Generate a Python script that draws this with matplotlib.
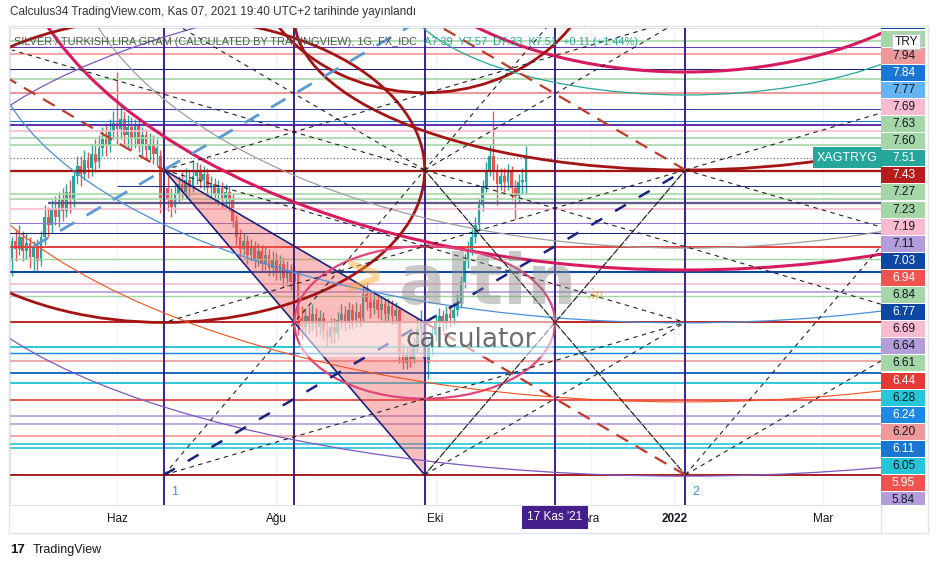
import numpy as np
import matplotlib.pyplot as plt
from matplotlib.patches import Ellipse, Rectangle, Polygon
from matplotlib.lines import Line2D
from matplotlib.transforms import blended_transform_factory

plt.rcParams["font.family"] = ["Liberation Sans", "DejaVu Sans"]

FIRST_DAY = "2021-04-21"

# daily candles, XAG/TRY per gram
opens = [7.00, 7.10, 7.06, 7.12, 7.05, 7.09, 7.02, 7.07, 7.00, 7.12,
         7.22, 7.18, 7.26, 7.22, 7.30, 7.25, 7.34, 7.30, 7.42, 7.47,
         7.43, 7.50, 7.46, 7.53, 7.49, 7.56, 7.60, 7.57, 7.64, 7.68,
         7.65, 7.70, 7.62, 7.66, 7.60, 7.67, 7.58, 7.62, 7.55, 7.58,
         7.53, 7.52, 7.31, 7.36, 7.30, 7.27, 7.33, 7.38, 7.34, 7.40,
         7.37, 7.42, 7.44, 7.40, 7.43, 7.36, 7.38, 7.33, 7.36, 7.31,
         7.34, 7.30, 7.20, 7.12, 7.06, 7.10, 7.03, 7.07, 7.01, 7.05,
         6.99, 7.03, 6.97, 7.01, 6.95, 6.99, 6.92, 6.96, 6.90, 6.94,
         6.72, 6.68, 6.73, 6.69, 6.74, 6.68, 6.72, 6.66, 6.63, 6.68,
         6.65, 6.71, 6.74, 6.70, 6.76, 6.71, 6.75, 6.72, 6.84, 6.80,
         6.77, 6.81, 6.76, 6.79, 6.74, 6.78, 6.73, 6.76, 6.55, 6.50,
         6.54, 6.52, 6.58, 6.67, 6.70, 6.50, 6.58, 6.64, 6.70, 6.73,
         6.70, 6.74, 6.72, 6.76, 6.80, 6.90, 7.00, 7.06, 7.12, 7.18,
         7.28, 7.37, 7.45, 7.52, 7.44, 7.38, 7.42, 7.39, 7.44, 7.36,
         7.32, 7.39, 7.39]
closes = [7.10, 7.06, 7.12, 7.05, 7.09, 7.02, 7.07, 7.00, 7.12, 7.22,
          7.18, 7.26, 7.22, 7.30, 7.25, 7.34, 7.30, 7.42, 7.47, 7.43,
          7.50, 7.46, 7.53, 7.49, 7.56, 7.60, 7.57, 7.64, 7.68, 7.65,
          7.70, 7.62, 7.66, 7.60, 7.67, 7.58, 7.62, 7.55, 7.58, 7.53,
          7.56, 7.31, 7.36, 7.30, 7.27, 7.33, 7.38, 7.34, 7.40, 7.37,
          7.42, 7.44, 7.40, 7.43, 7.36, 7.38, 7.33, 7.36, 7.31, 7.34,
          7.30, 7.20, 7.12, 7.06, 7.10, 7.03, 7.07, 7.01, 7.05, 6.99,
          7.03, 6.97, 7.01, 6.95, 6.99, 6.92, 6.96, 6.90, 6.94, 6.72,
          6.68, 6.73, 6.69, 6.74, 6.68, 6.72, 6.66, 6.63, 6.68, 6.65,
          6.71, 6.74, 6.70, 6.76, 6.71, 6.75, 6.72, 6.84, 6.80, 6.77,
          6.81, 6.76, 6.79, 6.74, 6.78, 6.73, 6.76, 6.55, 6.50, 6.54,
          6.52, 6.58, 6.67, 6.70, 6.52, 6.58, 6.64, 6.70, 6.73, 6.70,
          6.74, 6.72, 6.76, 6.80, 6.90, 7.00, 7.06, 7.12, 7.18, 7.28,
          7.37, 7.45, 7.52, 7.44, 7.38, 7.42, 7.39, 7.44, 7.36, 7.32,
          7.39, 7.40, 7.51]
highs = [7.12, 7.16, 7.18, 7.15, 7.14, 7.12, 7.10, 7.11, 7.15, 7.28,
         7.27, 7.30, 7.32, 7.34, 7.36, 7.38, 7.40, 7.45, 7.52, 7.52,
         7.55, 7.54, 7.58, 7.60, 7.62, 7.66, 7.68, 7.70, 7.74, 7.93,
         7.78, 7.74, 7.72, 7.71, 7.70, 7.70, 7.66, 7.65, 7.63, 7.62,
         7.60, 7.55, 7.40, 7.42, 7.36, 7.38, 7.42, 7.44, 7.46, 7.45,
         7.50, 7.49, 7.48, 7.47, 7.46, 7.42, 7.41, 7.40, 7.39, 7.38,
         7.37, 7.33, 7.23, 7.16, 7.14, 7.13, 7.11, 7.10, 7.09, 7.08,
         7.07, 7.06, 7.05, 7.04, 7.03, 7.02, 7.00, 6.99, 6.98, 6.96,
         6.78, 6.77, 6.78, 6.79, 6.77, 6.76, 6.75, 6.70, 6.72, 6.72,
         6.75, 6.79, 6.78, 6.80, 6.79, 6.80, 6.79, 6.88, 6.90, 6.85,
         6.86, 6.84, 6.83, 6.82, 6.82, 6.81, 6.80, 6.78, 6.60, 6.58,
         6.60, 6.63, 6.72, 6.76, 6.72, 6.62, 6.68, 6.74, 6.77, 6.76,
         6.78, 6.78, 6.80, 6.84, 6.93, 7.04, 7.10, 7.16, 7.22, 7.31,
         7.40, 7.49, 7.58, 7.74, 7.48, 7.46, 7.46, 7.48, 7.47, 7.40,
         7.43, 7.46, 7.57]
lows = [6.93, 7.00, 7.03, 7.00, 7.01, 6.97, 6.95, 6.96, 6.98, 7.08,
        7.12, 7.14, 7.18, 7.17, 7.20, 7.22, 7.24, 7.27, 7.38, 7.37,
        7.40, 7.41, 7.42, 7.44, 7.46, 7.52, 7.52, 7.54, 7.60, 7.58,
        7.60, 7.58, 7.56, 7.55, 7.56, 7.54, 7.52, 7.50, 7.50, 7.48,
        7.47, 7.24, 7.26, 7.25, 7.22, 7.24, 7.29, 7.30, 7.31, 7.32,
        7.34, 7.38, 7.36, 7.35, 7.32, 7.31, 7.29, 7.28, 7.27, 7.27,
        7.25, 7.17, 7.08, 7.02, 7.03, 6.99, 7.00, 6.97, 6.98, 6.95,
        6.96, 6.93, 6.93, 6.91, 6.91, 6.88, 6.88, 6.86, 6.86, 6.64,
        6.62, 6.64, 6.65, 6.66, 6.63, 6.64, 6.62, 6.58, 6.60, 6.60,
        6.62, 6.67, 6.66, 6.67, 6.67, 6.68, 6.68, 6.70, 6.76, 6.72,
        6.74, 6.72, 6.71, 6.70, 6.70, 6.69, 6.69, 6.50, 6.47, 6.47,
        6.48, 6.50, 6.55, 6.60, 6.48, 6.42, 6.54, 6.61, 6.66, 6.66,
        6.67, 6.68, 6.69, 6.73, 6.77, 6.87, 6.97, 7.03, 7.09, 7.15,
        7.25, 7.34, 7.42, 7.40, 7.28, 7.35, 7.34, 7.35, 7.30, 7.21,
        7.29, 7.33, 7.33]

month_labels = ["Haz", "Ağu", "Eki", "Ara", "2022", "Mar"]
month_dates = ["2021-06-01", "2021-08-01", "2021-10-01", "2021-12-01",
               "2022-01-01", "2022-03-01"]
cursor_date = "2021-11-17"
cursor_label = "17 Kas '21"

gann_bars = [42, 78, 114, 150, 186]
cycle_marks = [(42, "1"), (186, "2")]
last_price = 7.51

# horizontal levels drawn in the chart
level_prices = [8.085, 8.055, 8.02, 7.945, 7.90, 7.83, 7.75, 7.69, 7.67, 7.64,
                7.605, 7.575, 7.445, 7.37, 7.33, 7.305, 7.29, 7.26, 7.19, 7.14,
                7.07, 7.01, 6.95, 6.89, 6.85, 6.83, 6.70, 6.58, 6.55, 6.51,
                6.45, 6.40, 6.32, 6.24, 6.20, 6.14, 6.10, 6.08, 5.95]
level_colors = ["#a5d6a7", "#673ab7", "#f4a3a3", "#1a237e", "#a5d6a7", "#ef9a9a",
                "#3949ab", "#1976d2", "#5e35b1", "#f8bbd0", "#a5d6a7", "#a5d6a7",
                "#a31515", "#283593", "#a5d6a7", "#a5d6a7", "#5c5c85", "#f8bbd0",
                "#9575cd", "#1a237e", "#e53935", "#a5d6a7", "#0d47a1", "#f8bbd0",
                "#b39ddb", "#a5d6a7", "#b71c1c", "#26c6da", "#1e88e5", "#ef9a9a",
                "#1565c0", "#26c6da", "#e53935", "#b39ddb", "#b39ddb", "#ef9a9a",
                "#26c6da", "#26c6da", "#a31515"]
level_widths = [1.6, 1.0, 1.8, 1.0, 1.6, 2.0, 1.0, 1.0, 2.0, 1.6,
                1.6, 1.6, 2.2, 1.0, 1.6, 1.6, 2.2, 1.6, 1.0, 1.0,
                1.8, 1.4, 2.0, 1.6, 1.6, 1.4, 1.8, 1.8, 1.4, 1.6,
                1.8, 1.8, 1.6, 1.6, 1.6, 1.6, 1.6, 1.6, 1.8]
level_starts = [-1] * 13 + [29, -1, -1, 10] + [-1] * 22

# price-scale labels (the top two sit under the TRY tag / the chart edge)
axis_values = [8.16, 8.09, 7.94, 7.84, 7.77, 7.69, 7.63, 7.60, 7.51, 7.43,
               7.27, 7.23, 7.19, 7.11, 7.03, 6.94, 6.84, 6.77, 6.69, 6.64,
               6.61, 6.44, 6.28, 6.24, 6.20, 6.11, 6.05, 5.95, 5.84]
axis_fill = ["#0d47a1", "#a5d6a7", "#ef9a9a", "#1976d2", "#64b5f6", "#f8bbd0",
             "#a5d6a7", "#a5d6a7", "#26a69a", "#b71c1c", "#a5d6a7", "#a5d6a7",
             "#f8bbd0", "#b39ddb", "#0d47a1", "#ef5350", "#a5d6a7", "#0d47a1",
             "#f8bbd0", "#b39ddb", "#a5d6a7", "#e53935", "#26c6da", "#1e88e5",
             "#ef9a9a", "#1976d2", "#26c6da", "#ef5350", "#b39ddb"]
hidden_text = {8.16, 8.09}
white_text = {7.84, 7.51, 7.43, 7.03, 6.94, 6.77, 6.44, 6.24, 6.11, 5.95}

# Gann circles: centre bar, centre price, half width (bars), half height (price)
ellipse_centres = [(186, 8.798), (186, 8.798), (42, 7.45), (186, 8.20), (114, 8.58),
                   (114, 6.70), (186, 8.144), (186, 8.655), (186, 8.392),
                   (186, 7.917), (186, 7.194)]
ellipse_radii = [(188, 1.84), (86.5, 0.866), (72, 0.75), (108, 0.75), (49, 0.75),
                 (36, 0.375), (193, 1.446), (171, 1.589), (80, 0.573),
                 (210, 1.608), (210, 1.25)]
ellipse_colors = ["#d81b60", "#d81b60", "#a31515", "#a31515", "#a31515",
                  "#e0457b", "#4a90d9", "#9e9e9e", "#26a69a", "#f4511e", "#7e57c2"]
ellipse_widths = [2.2, 2.2, 2.0, 2.0, 2.0, 1.6, 0.9, 0.9, 0.9, 0.8, 0.9]

# Gann fan rays (bar, price, bar, price)
fan_segments = [(42, 7.45, 186, 8.20), (42, 7.45, 186, 6.70), (42, 5.95, 186, 6.70),
                (42, 5.95, 150, 8.20), (114, 7.45, 186, 5.95), (114, 7.45, 186, 8.20),
                (114, 7.45, 42, 8.20), (114, 7.45, 240, 6.79), (114, 7.45, 0, 8.04),
                (186, 7.45, 114, 5.95), (186, 7.45, 42, 6.70), (186, 7.45, 240, 7.73),
                (186, 7.45, 240, 7.17), (186, 5.95, 114, 7.45), (186, 5.95, 240, 7.075),
                (186, 5.95, 240, 6.51), (114, 5.95, 186, 7.45), (114, 5.95, 186, 6.70)]
red_dashed = [(-2, 7.91, 42, 7.45), (114, 8.20, 186, 7.45), (114, 6.70, 186, 5.95)]
navy_dashed = [(42, 5.95, 186, 7.45)]
blue_dashed = [(6, 7.075, 114, 8.20)]
triangle = [(42, 7.45), (114, 6.70), (114, 5.95)]

W, H = 941, 568


def fig_box(x0, y0, x1, y1):
    return [x0 / W, 1 - y1 / H, (x1 - x0) / W, (y1 - y0) / H]


fig = plt.figure(figsize=(W / 100, H / 100), dpi=100)
ax = fig.add_axes(fig_box(10, 28, 881, 505))
axp = fig.add_axes(fig_box(881, 28, 928, 505))

ax.set_xlim(-0.55, 240.05)
ax.set_ylim(5.802, 8.1485)
axp.set_ylim(ax.get_ylim())
axp.set_xlim(0, 1)
axp.axis("off")

for side in ax.spines.values():
    side.set_color("#e0e3eb")
ax.set_yticks([])

# time axis
tick_pos = [int(np.busday_count(FIRST_DAY, d)) for d in month_dates]
ax.set_xticks(tick_pos)
ax.set_xticklabels(month_labels)
ax.tick_params(axis="x", length=0, pad=6, labelsize=8.5, labelcolor="#131722")
ax.get_xticklabels()[4].set_fontweight("bold")
ax.grid(axis="x", color="#f0f3fa", lw=1, zorder=0)

# candles
idx = np.arange(len(closes))
o = np.array(opens)
c = np.array(closes)
cols = np.where(c >= o, "#26a69a", "#ef5350")
ax.vlines(idx, lows, highs, colors=cols, lw=1.0, zorder=2)
ax.bar(idx, np.maximum(np.abs(c - o), 0.006), bottom=np.minimum(o, c),
       width=0.75, color=cols, linewidth=0, zorder=2)

# levels
for p, col, lw, s in zip(level_prices, level_colors, level_widths, level_starts):
    ax.hlines(p, s, 241, colors=col, lw=lw * 0.75, zorder=3)
ax.axhline(last_price, color="#555555", lw=0.8, ls=(0, (1, 2)), zorder=3)

# shaded triangle
ax.add_patch(Polygon(triangle, closed=True, fc="#ef5350", alpha=0.38, ec="none", zorder=3))
for p in triangle[1:]:
    ax.plot([triangle[0][0], p[0]], [triangle[0][1], p[1]], color="#1a237e", lw=1.2, zorder=4)

for b in gann_bars:
    ax.axvline(b, color="#3b1f8f", lw=1.4, zorder=4)

for (cx, cy), (rx, ry), col, lw in zip(ellipse_centres, ellipse_radii,
                                       ellipse_colors, ellipse_widths):
    ax.add_patch(Ellipse((cx, cy), 2 * rx, 2 * ry, fill=False, ec=col, lw=lw, zorder=4))

for x0, y0, x1, y1 in fan_segments:
    ax.plot([x0, x1], [y0, y1], color="#222222", lw=0.8, ls=(0, (4, 4)), zorder=4)
for x0, y0, x1, y1 in red_dashed:
    ax.plot([x0, x1], [y0, y1], color="#c0392b", lw=1.6, ls=(0, (6, 4)), zorder=4)
for x0, y0, x1, y1 in navy_dashed:
    ax.plot([x0, x1], [y0, y1], color="#1a237e", lw=1.8, ls=(0, (5, 6)), zorder=4)
for x0, y0, x1, y1 in blue_dashed:
    ax.plot([x0, x1], [y0, y1], color="#5b9bd5", lw=2.0, ls=(0, (6, 5)), zorder=4)

bottom_tr = blended_transform_factory(ax.transData, ax.transAxes)
for b, txt in cycle_marks:
    ax.text(b + 3, 0.027, txt, transform=bottom_tr, color="#4a90d9",
            fontsize=9, ha="center", va="center", zorder=6)

# watermark
ax.add_patch(Rectangle((0.333, 0.31), 0.29, 0.075, transform=ax.transAxes,
                       fc="white", ec="none", alpha=0.55, zorder=6))
ax.text(0.405, 0.47, ">", transform=ax.transAxes, fontsize=44, fontweight="bold",
        color="#f5a623", alpha=0.45, ha="center", va="center", zorder=6)
ax.text(0.447, 0.462, "altin", transform=ax.transAxes, fontsize=50, fontweight="bold",
        color="#8a8a8a", alpha=0.45, ha="left", va="center", zorder=6,
        family="DejaVu Sans")
ax.text(0.662, 0.44, ".in", transform=ax.transAxes, fontsize=10, fontweight="bold",
        color="#f5a623", alpha=0.5, ha="left", va="center", zorder=6)
ax.text(0.529, 0.346, "calculator", transform=ax.transAxes, fontsize=19,
        color="#555555", alpha=0.85, ha="center", va="center", zorder=6,
        family="DejaVu Sans")

# symbol tag and legend
right_tr = blended_transform_factory(ax.transAxes, ax.transData)
ax.text(0.9965, last_price, "XAGTRYG", transform=right_tr, ha="right", va="center",
        color="white", fontsize=9, zorder=8,
        bbox=dict(boxstyle="square,pad=0.35", fc="#26a69a", ec="none"))
name = ax.text(0.005, 0.9706, "SILVER / TURKISH LIRA GRAM (CALCULATED BY TRADINGVIEW), 1G, FX_IDC",
               transform=ax.transAxes, fontsize=7.9, color="#555555", va="center", zorder=9)
ax.annotate("A7.39  Y7.57  D7.33  K7.51  +0.11 (+1.44%)", xy=(1, 0.5), xycoords=name,
            xytext=(5, 0), textcoords="offset points", fontsize=7.9, color="#26a69a",
            va="center", zorder=9)

ax.annotate(cursor_label, xy=(int(np.busday_count(FIRST_DAY, cursor_date)), 0),
            xycoords=bottom_tr, xytext=(0, -9), textcoords="offset points",
            ha="center", va="center", color="white", fontsize=8.5, zorder=10,
            annotation_clip=False,
            bbox=dict(boxstyle="square,pad=0.45", fc="#45208c", ec="none"))

# stacked price labels
raw = ax.transData.transform([(0, v) for v in axis_values])[:, 1]
step = 17.1
blocks = [[y] for y in raw]
merged = True
while merged:
    merged = False
    for i in range(len(blocks) - 1):
        up, lo = blocks[i], blocks[i + 1]
        up_bottom = np.mean(up) - (len(up) - 1) * step / 2
        lo_top = np.mean(lo) + (len(lo) - 1) * step / 2
        if up_bottom - lo_top < step:
            blocks[i:i + 2] = [up + lo]
            merged = True
            break
centres = []
for blk in blocks:
    m = np.mean(blk)
    centres += [m + (len(blk) - 1) * step / 2 - k * step for k in range(len(blk))]
inv = ax.transData.inverted()
per_px = (ax.get_ylim()[1] - ax.get_ylim()[0]) / 477.0
box_h = 16 * per_px
for v, col, cy in zip(axis_values, axis_fill, centres):
    yd = inv.transform((0, cy))[1]
    axp.add_patch(Rectangle((0.0, yd - box_h / 2), 0.94, box_h, fc=col, ec="none",
                            clip_on=True, zorder=3))
    if v in hidden_text:
        continue
    axp.text(0.48, yd, f"{v:.2f}", ha="center", va="center", fontsize=8.6,
             color="white" if v in white_text else "#131722", zorder=4, clip_on=True)
axp.add_patch(Rectangle((0.24, 0.955), 0.6, 0.033, transform=axp.transAxes,
                        fc="white", ec="#c8ccd6", lw=0.8, zorder=5))
axp.text(0.54, 0.9715, "TRY", transform=axp.transAxes, ha="center", va="center",
         fontsize=8.6, color="#131722", zorder=6)

# frame, header, footer
fig.add_artist(Rectangle((9 / W, 1 - 533 / H), 919 / W, 507 / H, transform=fig.transFigure,
                         fill=False, ec="#e0e3eb", lw=1))
fig.add_artist(Line2D([881 / W, 881 / W], [1 - 533 / H, 1 - 505 / H],
                      transform=fig.transFigure, color="#e0e3eb", lw=1))
fig.text(10 / W, 1 - 12 / H, "Calculus34 TradingView.com, Kas 07, 2021 19:40 UTC+2 tarihinde yayınlandı",
         fontsize=8.5, color="#333333", va="center")
fig.text(10 / W, 1 - 550 / H, "17", fontsize=9.5, fontweight="bold",
         color="#131722", va="center")
fig.text(33 / W, 1 - 550 / H, "TradingView", fontsize=9, color="#131722", va="center")

fig.savefig("out.png", dpi=100)
